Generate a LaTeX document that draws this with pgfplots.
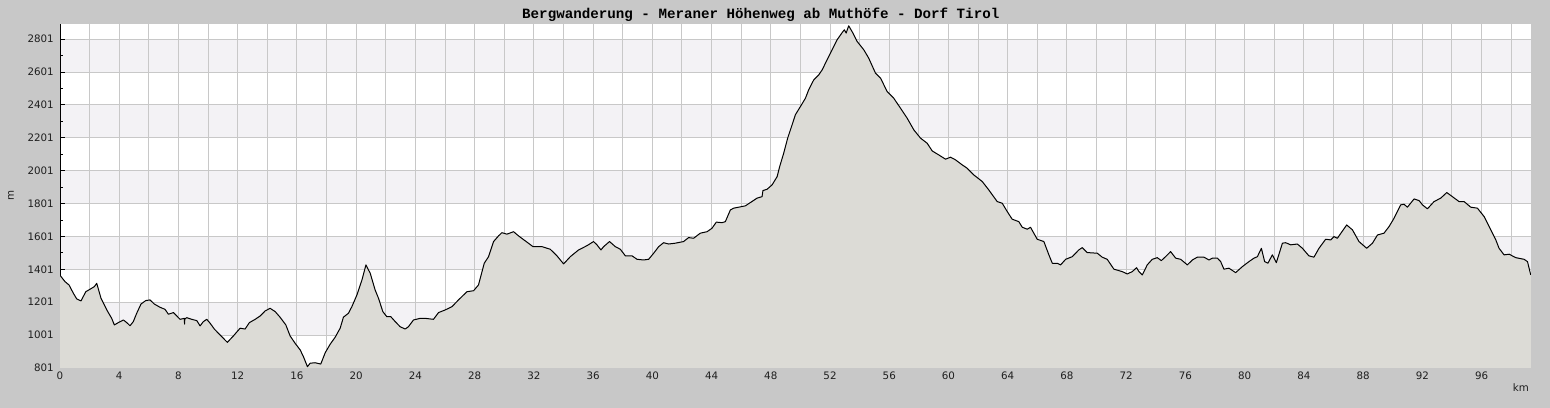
\documentclass[border=0pt]{standalone}
\usepackage{fontspec}
\setmainfont{DejaVu Sans}
\newfontfamily\titlefont{Liberation Mono}
\usepackage{xcolor}
\usepackage{pgfplots}
\usepackage{pgfplotstable}
\pgfplotsset{compat=1.18}
\definecolor{bgc}{HTML}{C8C8C8}
\definecolor{bandc}{HTML}{F3F2F5}
\definecolor{fillc}{HTML}{DCDBD6}
\definecolor{gridc}{HTML}{C8C8C8}
\definecolor{txtc}{HTML}{1E1E1E}
\pagecolor{bgc}
\pgfplotsset{
  layers/mylayers/.define layer set={axis background,axis grid,main,axis ticks,axis lines,axis tick labels,axis descriptions,axis foreground}{},
}
\pgfplotstableread{
km m
0.00 1365
0.34 1326
0.61 1306
0.90 1256
1.13 1221
1.42 1209
1.74 1265
2.03 1280
2.32 1296
2.48 1316
2.77 1225
3.16 1154
3.49 1103
3.67 1063
3.94 1077
4.28 1093
4.51 1077
4.73 1058
4.95 1083
5.18 1134
5.47 1190
5.79 1211
6.08 1215
6.37 1190
6.76 1170
7.09 1158
7.32 1128
7.66 1138
7.89 1117
8.11 1097
8.40 1103
8.41 1068
8.43 1100
8.56 1107
8.90 1097
9.24 1089
9.46 1057
9.68 1083
9.91 1097
10.14 1073
10.43 1037
10.81 1002
11.30 957
11.71 996
12.16 1043
12.50 1038
12.79 1077
13.18 1097
13.51 1117
13.85 1148
14.19 1164
14.53 1144
14.86 1110
15.25 1063
15.54 996
15.88 951
16.22 911
16.44 870
16.71 809
16.89 830
17.23 833
17.61 825
17.91 894
18.24 945
18.58 988
18.92 1043
19.14 1110
19.48 1134
19.71 1174
20.05 1245
20.39 1336
20.66 1428
20.95 1377
21.28 1276
21.51 1225
21.80 1144
22.07 1113
22.34 1113
22.64 1083
22.97 1052
23.31 1038
23.53 1052
23.87 1093
24.32 1103
24.66 1103
25.22 1097
25.56 1138
26.01 1154
26.47 1174
26.91 1215
27.48 1265
27.93 1271
28.26 1306
28.65 1438
28.94 1478
29.28 1570
29.61 1604
29.84 1624
30.18 1615
30.63 1630
30.97 1604
31.42 1574
31.94 1539
32.55 1539
33.11 1523
33.56 1483
34.01 1434
34.46 1478
35.02 1519
35.59 1545
36.03 1570
36.26 1550
36.53 1519
36.71 1539
37.11 1570
37.50 1539
37.84 1523
38.18 1483
38.63 1483
38.97 1462
39.41 1458
39.75 1462
40.09 1499
40.43 1539
40.76 1563
41.10 1555
41.55 1560
42.11 1570
42.45 1594
42.79 1590
43.24 1621
43.70 1630
44.03 1651
44.32 1688
44.71 1685
44.93 1691
45.27 1762
45.49 1773
45.83 1779
46.28 1787
46.62 1807
47.07 1834
47.41 1843
47.47 1880
47.75 1888
48.09 1915
48.43 1965
48.60 2026
48.87 2107
49.14 2199
49.44 2280
49.66 2341
50.00 2391
50.34 2442
50.56 2493
50.90 2553
51.24 2584
51.47 2614
51.80 2675
52.14 2736
52.48 2797
52.82 2841
52.97 2858
53.09 2838
53.26 2882
53.49 2847
53.83 2787
54.28 2736
54.61 2686
55.07 2594
55.41 2564
55.86 2482
56.30 2442
56.76 2381
57.21 2320
57.66 2249
58.11 2199
58.56 2168
58.90 2121
59.34 2097
59.80 2071
60.14 2083
60.47 2067
60.93 2036
61.26 2016
61.71 1975
62.28 1935
62.72 1884
63.29 1813
63.63 1803
63.97 1752
64.30 1706
64.75 1691
64.98 1657
65.32 1645
65.54 1657
65.99 1584
66.44 1570
66.78 1489
67.01 1438
67.34 1438
67.57 1428
67.91 1462
68.36 1478
68.80 1519
69.03 1533
69.37 1503
70.05 1499
70.38 1475
70.72 1462
71.17 1402
71.74 1387
72.07 1373
72.41 1387
72.70 1411
72.86 1387
73.09 1367
73.42 1428
73.76 1462
74.10 1472
74.37 1454
74.66 1478
75.00 1509
75.34 1469
75.68 1462
76.13 1428
76.47 1458
76.80 1475
77.25 1475
77.59 1458
77.82 1469
78.16 1469
78.38 1448
78.60 1402
78.94 1408
79.39 1381
79.84 1417
80.29 1448
80.63 1469
80.86 1478
81.13 1529
81.35 1448
81.57 1438
81.87 1489
82.14 1442
82.55 1560
82.77 1563
83.11 1550
83.56 1555
83.90 1529
84.34 1483
84.68 1475
85.02 1529
85.47 1584
85.81 1580
86.03 1600
86.26 1590
86.89 1671
87.28 1641
87.72 1570
88.24 1529
88.63 1560
88.97 1610
89.41 1621
89.75 1661
90.09 1712
90.54 1793
90.76 1797
90.99 1779
91.44 1829
91.78 1819
92.01 1793
92.34 1769
92.79 1813
93.24 1834
93.65 1868
94.03 1843
94.48 1813
94.82 1813
95.27 1779
95.72 1773
96.17 1722
96.62 1641
96.96 1580
97.18 1529
97.52 1489
97.86 1493
98.31 1472
98.87 1462
99.10 1448
99.32 1367
}\profile
\begin{document}
\begin{tikzpicture}
\begin{axis}[
  set layers=mylayers,
  at={(60bp,40bp)}, anchor=south west,
  scale only axis, width=1470.7bp, height=343.5bp,
  xmin=0, xmax=99.32, ymin=801, ymax=2890,
  axis x line=bottom, axis y line=left,
  axis line style={-, black, line width=1bp},
  xtick={0,4,...,96},
  extra x ticks={2,6,...,98},
  extra x tick labels={},
  extra x tick style={grid=major},
  minor xtick={1,3,...,99},
  ytick={801,1001,...,2801},
  minor ytick={901,1101,...,2701},
  tick align=inside,
  major tick length=5bp, minor tick length=2.7bp,
  tick style={black, line width=1bp},
  xmajorgrids, ymajorgrids,
  major grid style={gridc, line width=1bp},
  scaled ticks=false,
  /pgf/number format/1000 sep={},
  /pgf/number format/assume math mode=true,
  ticklabel style={font=\fontsize{10.3bp}{12bp}\selectfont, text=txtc},
  xticklabel style={anchor=north, inner sep=0pt, yshift=-3.5bp},
  yticklabel style={anchor=east, inner sep=0pt, xshift=-6bp},
]
\begin{pgfonlayer}{axis background}
\fill[white] (axis cs:0,801) rectangle (axis cs:99.32,2890);
\fill[bandc] (axis cs:0,1001) rectangle (axis cs:99.32,1201);
\fill[bandc] (axis cs:0,1401) rectangle (axis cs:99.32,1601);
\fill[bandc] (axis cs:0,1801) rectangle (axis cs:99.32,2001);
\fill[bandc] (axis cs:0,2201) rectangle (axis cs:99.32,2401);
\fill[bandc] (axis cs:0,2601) rectangle (axis cs:99.32,2801);
\end{pgfonlayer}
\addplot[fill=fillc, draw=none] table[x=km, y=m] {\profile} \closedcycle;
\addplot[black, line width=1bp, line join=round] table[x=km, y=m] {\profile};
\end{axis}
\node[anchor=base west, inner sep=0pt, text=black] at (522bp,389bp) {\titlefont\bfseries\fontsize{14.2bp}{16bp}\selectfont Bergwanderung - Meraner Höhenweg ab Muthöfe - Dorf Tirol};
\node[anchor=base east, inner sep=0pt, text=txtc] at (1529bp,16.3bp) {\fontsize{10.3bp}{12bp}\selectfont km};
\node[rotate=90, inner sep=0pt, text=txtc] at (11bp,212.3bp) {\fontsize{10.3bp}{12bp}\selectfont m};
\pgfresetboundingbox
\useasboundingbox (0,0) rectangle (1550bp,408bp);
\end{tikzpicture}
\end{document}
